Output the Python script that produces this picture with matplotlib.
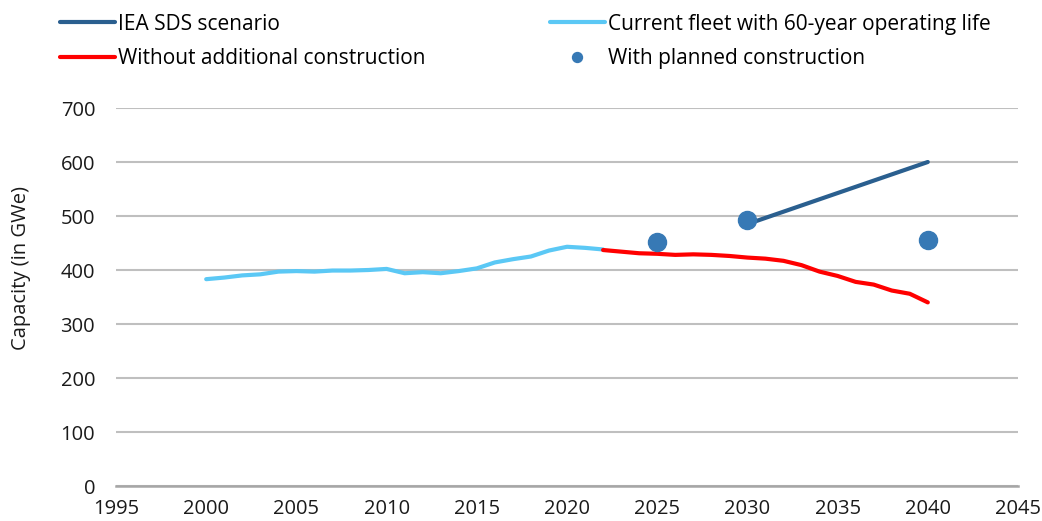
import matplotlib
matplotlib.use("Agg")
import matplotlib.pyplot as plt

plt.rcParams['font.family'] = ['Open Sans', 'DejaVu Sans']

# current fleet, 60-year operating life (GWe)
fleet_years = list(range(2000, 2023))
fleet_cap = [383, 386, 390, 392, 397, 398, 397, 399, 399, 400, 402, 394,
             396, 394, 398, 403, 414, 420, 425, 436, 443, 441, 438]

# without additional construction
noadd_years = list(range(2022, 2041))
noadd_cap = [437, 434, 431, 430, 428, 429, 428, 426, 423, 421, 417, 409,
             397, 389, 378, 373, 362, 356, 340]

# IEA SDS scenario
sds_years = [2030, 2040]
sds_cap = [485, 600]

# with planned construction
planned_years = [2025, 2030, 2040]
planned_cap = [452, 493, 455]

c_sds = '#2a5f8f'
c_fleet = '#5bc8f5'
c_red = '#ff0000'
c_dot = '#3779b5'

fig = plt.figure(figsize=(10.42, 5.21), dpi=100)
ax = fig.add_axes([116 / 1042, 35 / 521, 902 / 1042, 378 / 521])

ax.plot(fleet_years, fleet_cap, color=c_fleet, lw=3, solid_capstyle='round',
        label='Current fleet with 60-year operating life', zorder=3)
ax.plot(noadd_years, noadd_cap, color=c_red, lw=3, solid_capstyle='round',
        label='Without additional construction', zorder=3)
ax.plot(sds_years, sds_cap, color=c_sds, lw=3, solid_capstyle='round',
        label='IEA SDS scenario', zorder=3)
ax.plot(planned_years, planned_cap, 'o', color=c_dot, ms=13, zorder=4,
        label='With planned construction')

ax.set_xlim(1995, 2045)
ax.set_ylim(0, 700)
ax.set_xticks(range(1995, 2046, 5))
ax.set_yticks(range(0, 701, 100))
ax.grid(axis='y', color='#bfbfbf', lw=1.5)
ax.set_axisbelow(True)
for s in ['top', 'right', 'left']:
    ax.spines[s].set_visible(False)
ax.spines['bottom'].set_color('#a6a6a6')
ax.spines['bottom'].set_linewidth(1.8)
ax.tick_params(axis='both', length=0, labelsize=14.5, colors='#1a1a1a')
ax.tick_params(axis='y', pad=15)
ax.tick_params(axis='x', pad=9.5)

ax.set_ylabel('Capacity (in GWe)', fontsize=14.5, color='#1a1a1a')
ax.yaxis.set_label_coords(-0.094, 0.577)

h, l = ax.get_legend_handles_labels()
order = [2, 1, 0, 3]
fig.legend([h[i] for i in order], [l[i] for i in order], ncol=2,
           loc='upper left', bbox_to_anchor=(0.0576, 0.974), frameon=False,
           fontsize=15, handlelength=2.65, handletextpad=0.15,
           columnspacing=5.95, labelspacing=0.64, markerscale=0.55,
           borderpad=0, borderaxespad=0)

fig.savefig('out.png', dpi=100)
